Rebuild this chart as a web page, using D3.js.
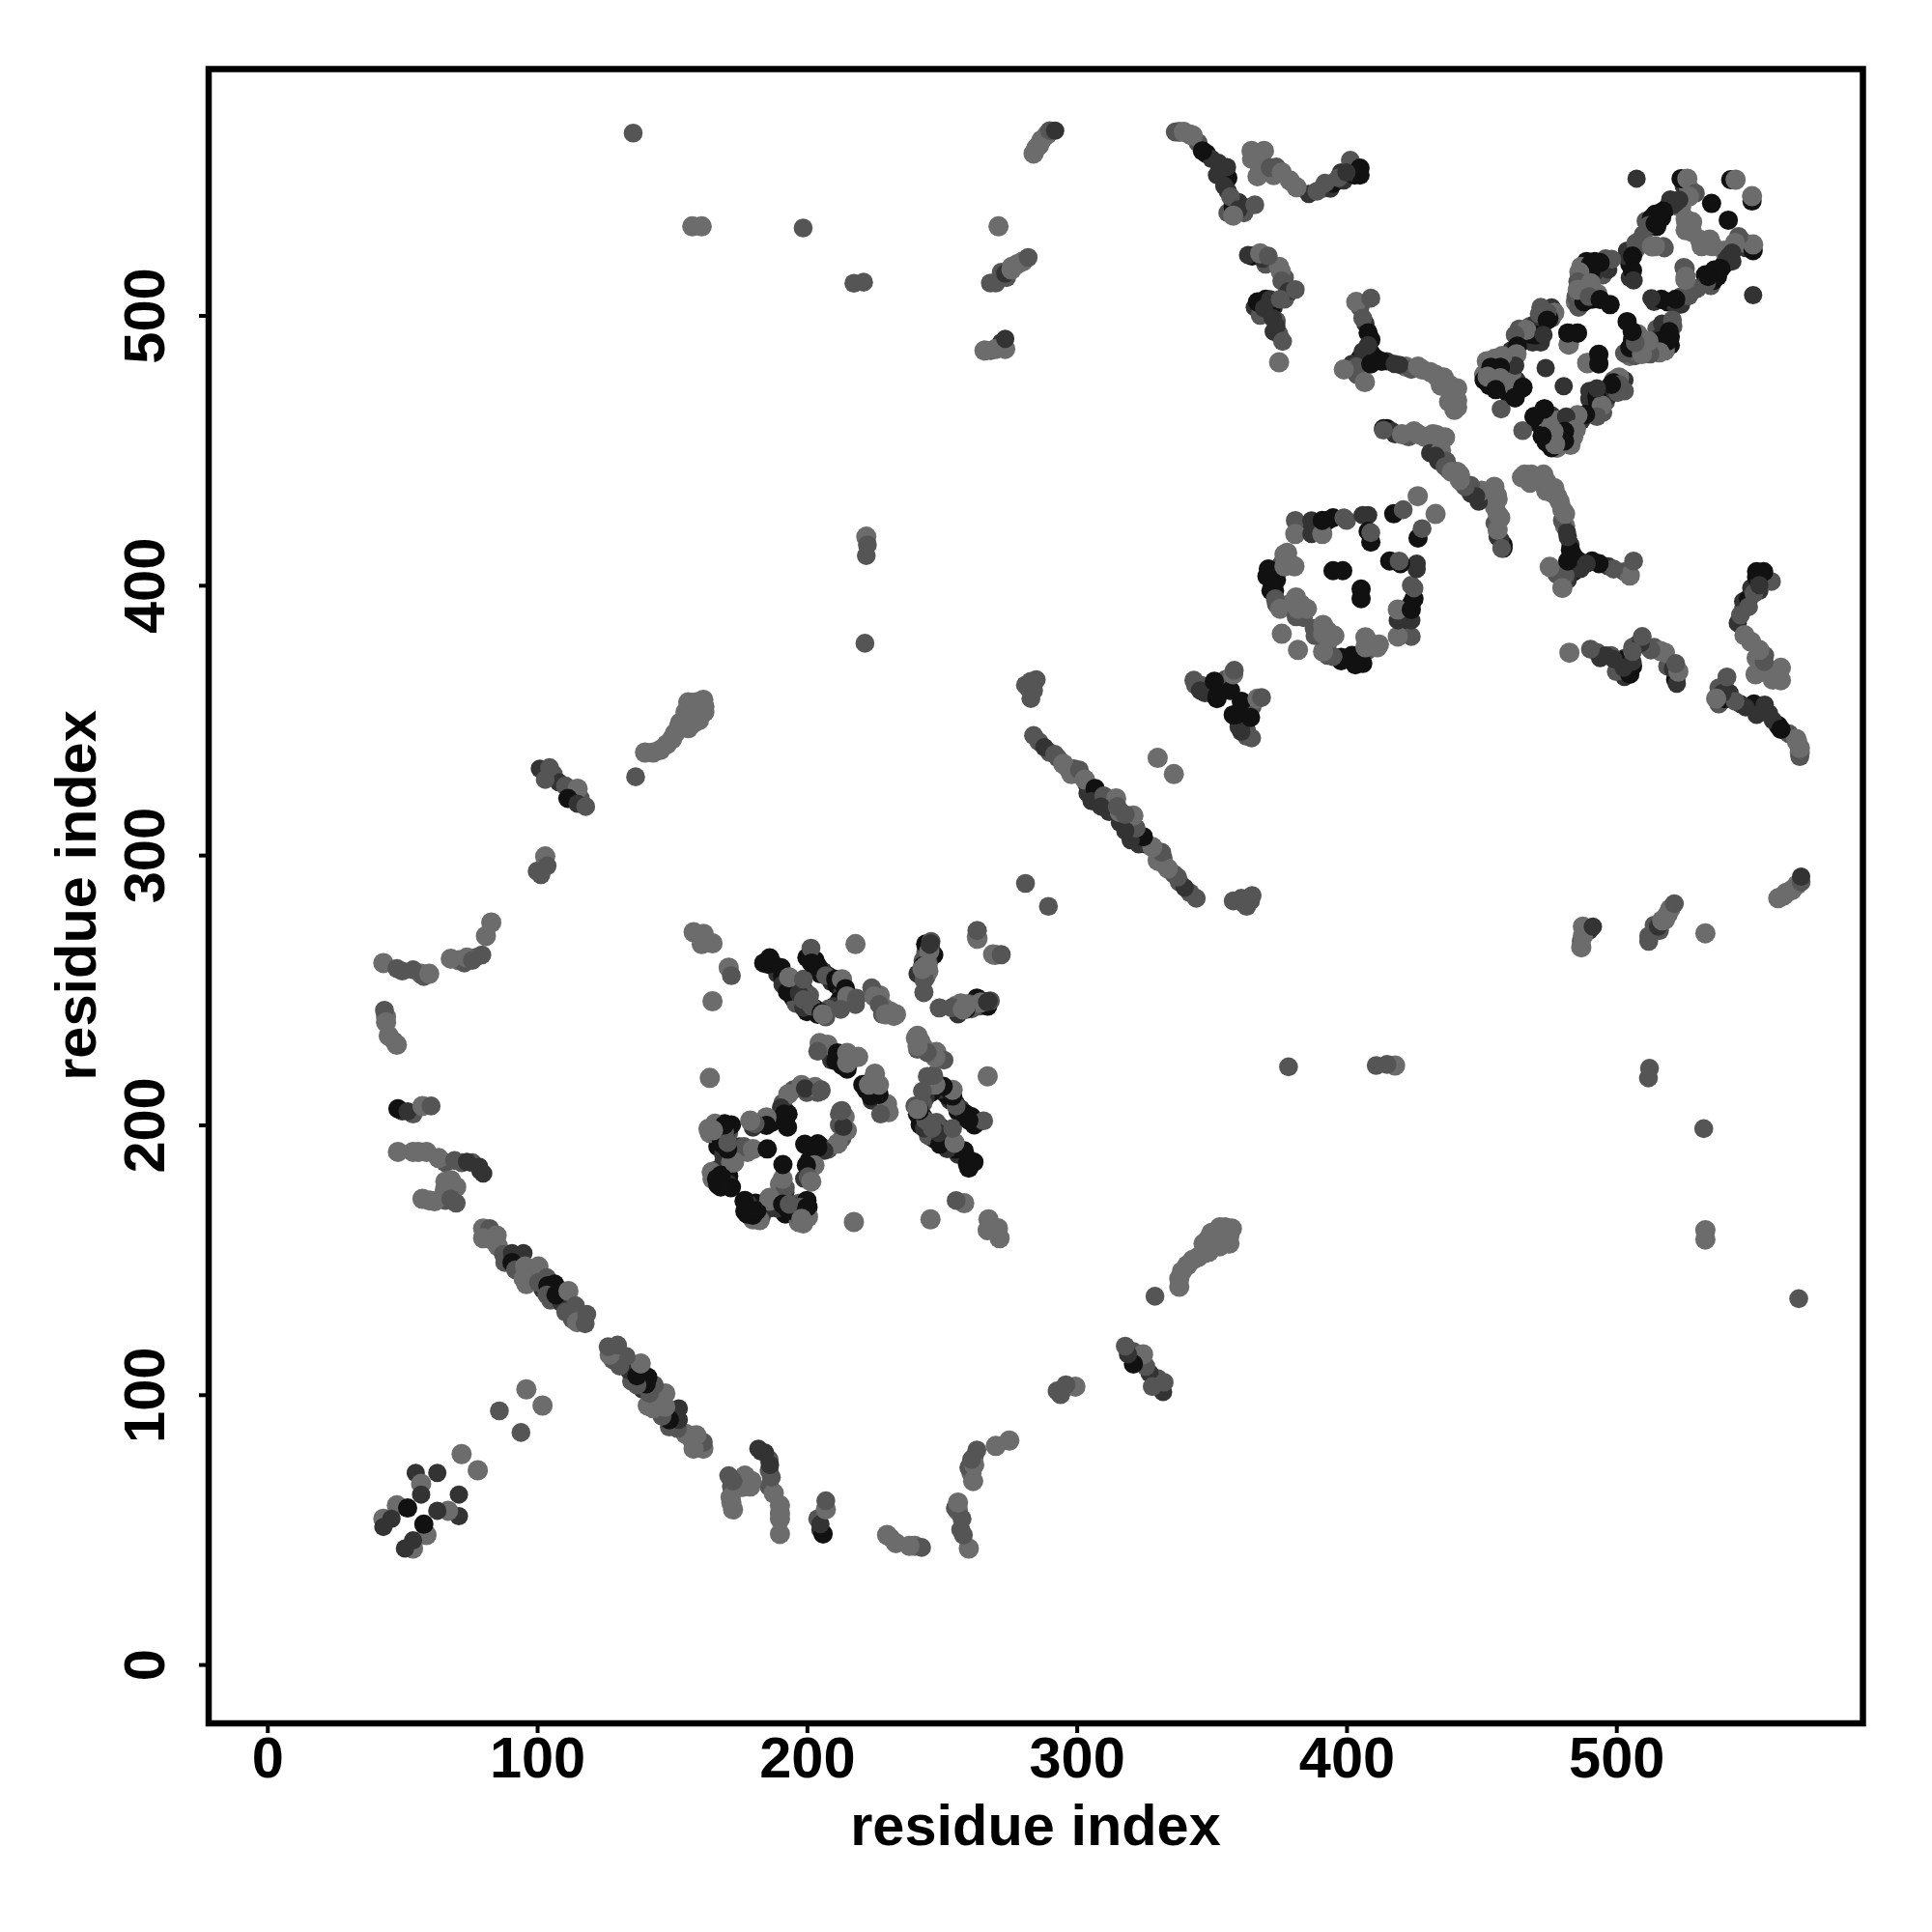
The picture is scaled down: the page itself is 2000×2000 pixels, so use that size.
<!DOCTYPE html>
<html><head><meta charset="utf-8">
<script src="https://cdn.jsdelivr.net/npm/d3@7"></script>
<style>html,body{margin:0;padding:0;background:#fff}svg{display:block}
text{font-family:"Liberation Sans",Arial,sans-serif;font-weight:700;fill:#000}</style>
</head><body><div id="c"></div>
<script>
// Each contact: [residue i, residue j, shade index]; the map is symmetric, each contact is plotted at (i,j) and (j,i).
const shades = ["#6c6c6c","#555555","#333333","#111111"];
const radii = [10.5,9.8,9.5,10];
const xTicks = [0,100,200,300,400,500];
const yTicks = [0,100,200,300,400,500];
const axisTitle = "residue index";

const helixN = [[72,78,0],[55,71,2],[63,71,2],[57,67,0],[57,63,2],[48,59,0],[52,58,3],[43,54,0],[46,54,2],[43,51,2],[86,94,1],[96,102,0]];
const bandA = [[80,161.6,0],[82.4,161.6,1],[80,158,0],[85,159,0],[85.5,155,0],[87.5,152,1],[88,149,1],[90.7,152.5,2],[94.9,152.5,2],[90.7,149,3],[92,146.3,1],[95.5,147.5,0],[95,143,0],[96,141,0],[100.5,147.5,0],[100.5,141.6,1],[103.6,143.4,1],[106.5,141,3],[104,140.4,3],[103.6,137,1],[107,137,3],[111.6,138.4,0],[110.6,130.6,1],[114.2,133,1],[114.8,126.9,0],[117.8,126.3,1],[118.4,129.8,1]];
const leftRows = [[43,260,0],[48,258,1],[54,257.5,1],[60,256,0],[68,261.6,0],[74,262,0],[79.5,263,1],[76,261,1],[81,270,0],[83,275,0],[43.4,242.5,1],[44,238,0],[45,233,0],[48,229.7,0],[48.4,206,3],[52,205,2],[57.5,207,0],[60.7,207,1],[48.4,190,0],[54,190,0],[59,190,0],[63.5,187.7,0],[69.4,186.8,1],[74,186.3,2],[78.5,184.5,2],[80,182,2],[68,179.5,0],[65.8,176,0],[57.5,172.6,0],[62,171.7,0],[68,172.6,1]];
const armB = [[136.5,329,1],[140,338,0],[145.7,339,0],[150,343,0],[152.5,347.5,0],[154.8,350,0],[157,352,0],[159,353,0],[162,353,0],[156,356.6,0],[159,356.6,0],[161.6,357.5,0]];
const armC = [[101,332,2],[104.6,332.4,1],[103,328,1],[110.5,325.6,1],[115,324.6,0],[111.4,321,3],[115,319,2],[118,318,1],[101.4,292.7,1],[103,299.5,0],[103.7,296,1]];
const farA = [[135.6,567.6,1],[157.5,533,0],[161,533,0],[198.6,532.4,1],[217.4,511.9,1],[221,512.3,1],[222,418,0],[222.4,415,1],[222,411,1],[221.5,378.5,1]];
const farB = [[271,533,0],[268,512,1],[271.7,514,1],[273.5,515.5,2],[275.8,517,0],[278,519,0],[282,521.5,1],[265.8,487,0],[270,487.6,0],[273.5,487.6,0],[273.5,491.3,2],[285,562,0],[287,565,0],[290,568.5,1],[292,568.5,2],[283,364.4,1],[284,361,1],[281,289.5,1],[330,336,0]];
const bandD = [[284,344.3,1],[288,340,2],[291.8,337.4,1],[295,333.8,0],[301,331.5,1],[303,328,0],[306.8,324.7,3],[305.5,320,2],[310,322,1],[314.6,321,0],[309,318,2],[315,318,1]];
const arcM = [[336.5,568,1],[339.7,568,0],[343,566.7,0],[346.6,561,3],[352.5,556.6,2],[355.7,555,2],[354.7,548,2],[357,544,1],[360,539.3,2],[366,541,1],[358,537,0],[364.8,561,0],[369.4,561,0],[367,551.6,0],[371.7,554.8,1],[376,553,0],[381.5,547.5,0],[389,546,1],[392,549,1],[397,551,1],[401.4,557.5,1],[405,554.6,3],[400,553,2]];
const arcN = [[363.5,522.4,2],[368,523,0],[371,522,1],[375.6,516.4,0],[376,512.8,1],[378.5,509,2],[381,509.6,1],[367,505,3],[371.7,506,2],[375.4,506,1],[369.4,502.7,2],[372.6,499,2],[374,496,2],[376.3,490.4,1],[375,482.6,0]];
const arcO = [[403.6,505,0],[409,506.4,1],[406,499,1],[408,493.6,3],[408,489,2],[406,486.7,2],[403.6,481,1],[399,480,0],[406.8,475.3,0],[409,482,3],[413,483,3],[417.8,482,2],[419.6,481.7,2],[426.5,481,0],[431,479,0],[434,476.7,0],[437.9,474.4,0],[440,471.7,0],[441,468.5,0],[440,465,0]];
const arcP = [[413.7,458,3],[417,457,2],[420.5,456,1],[426.5,456,0],[433.3,455.7,0],[436.5,454.8,0],[433,448,2],[436.5,444,1],[439,442,0],[432,456,0],[425,457,0],[420.5,456,0],[413.7,457.5,1]];
const ringQ = [[381,424,1],[381,419,0],[387,424,2],[387,419,2],[391,419,0],[391,424,3],[395,425,3],[399,425,1],[406,426,2],[408,426,2],[408,420,3],[409,416,3],[409,419.5,1],[417.5,426.5,3],[421,428,1],[426.4,433,0],[371,406,3],[370.5,403.3,3],[374,404.5,3],[373.3,398,3],[373.6,395,1],[377,411.4,0],[377,407,0],[380.7,407,0],[375.4,391.3,0],[381.3,388.3,1],[381.3,395.5,0],[382,391.3,0],[385.3,391.3,0],[376,382,0],[395,405.4,3],[398.6,405.4,3]];
const blockR = [[343.4,364.8,1],[345.7,361,2],[347.5,360,2],[351,364.4,3],[352,358,3],[352,359,3],[358,367,0],[358.4,368.5,1]];
const clusterS = [[186.2,261.9,3],[185.6,259.5,3],[190.4,258.3,3],[192.8,249.3,3],[197,248.8,2],[193.4,254.7,0],[198.7,254,1],[198.7,243.4,2],[198.7,246.4,1],[201.7,244,1],[205.3,241.6,3],[205.9,241,0],[201.5,265.5,1],[201.7,260,3],[204,258.9,3],[207,255.3,1],[210.7,254,3],[213,254,0],[214.3,250.5,3],[214.9,247.6,0],[218.4,247,1],[218,244.6,1],[212.5,242.8,1],[224,250.8,1],[225,247.6,0],[226.8,244.6,1],[229.2,241,0],[232.2,240.4,0],[158,271.4,0],[161.7,270.8,0],[161.4,267.5,0],[165,267.3,0],[171,258.3,0],[172,255.3,1],[165,245.8,0],[218,267,0],[245.9,267.3,2],[245.3,264.3,0],[242.9,258.9,3],[244,258.9,0],[243.5,254,1],[243.3,249,1],[249.2,243.4,1],[253.6,243.4,1],[257.8,242.8,0],[259,244.6,0],[266.8,245.5,2],[263.2,272,1],[263.2,269,0],[269.8,263,0],[272,263,1]];
const clusterT = [[204.7,230.3,0],[207.7,229.7,0],[204,227.3,1],[211.3,226.7,3],[210.7,223.7,3],[214.9,220.7,3],[214.9,223,0],[214.9,226.7,0],[219,225.2,0],[164,217.4,0],[198,214.8,0],[193.1,211.4,0],[199.3,213.5,2],[205.3,213,1],[212.5,205.2,1],[190.4,206.4,2],[191.6,204,3],[192.8,199.2,3],[185,202.8,0],[185,199.8,3],[180.8,200.4,1],[179,201.6,0],[169.5,200.4,3],[165.9,200.4,0],[163.5,198.6,0],[169.5,197.4,1],[168.3,193.2,3],[172.5,190.3,2],[176.7,192,1],[180,191,0],[185.3,191.1,3],[171.9,186,0],[164.7,182.5,0],[166.5,180,3],[170.7,178.3,2],[167.1,177.7,3],[168.2,181.4,3],[171.8,176.7,3],[173,186.2,0],[170.6,191,3],[170.6,193.4,1],[169.4,200,3],[165.2,198,0]];
const blockU = [[507.5,550.7,2],[524,550.7,3],[526.3,550.7,0],[529.3,545.3,1],[526.9,544,0],[535.3,541.5,3],[542.4,550.3,3],[544.2,550.3,0],[523.3,542.9,2],[521.5,541,2],[517.4,538.7,3],[514.4,537.5,3],[516.8,536.3,3],[512,533.4,1],[514.4,534,3],[525.7,535.7,0],[528.1,534.6,0],[525.7,531.6,0],[507.2,526.8,1],[513.2,525.6,0],[517.4,525.6,1],[503.6,522,2],[506,522,3],[506,516.7,3],[506.4,513,2],[498.3,520.8,1],[494,519.6,3],[490.5,519,3],[490.5,516,3],[486.3,516,0],[485.7,512.5,1],[490.5,511.9,0],[485.7,509.5,0],[489.9,507,1],[494,505.9,3],[497.7,504,3],[525,517.8,1],[525.7,514.3,0]];
const blockV = [[474.4,501.1,1],[471.4,500.5,1],[474.4,498.2,3],[470,492.8,3],[466.6,494.6,0],[473,492.8,2],[462.5,492.8,1],[463.3,488.6,3],[463,485.6,0],[462.5,481.4,2],[457.7,485,0],[457,480.8,3],[453.5,480.8,3],[452.3,477.3,0],[457,476.7,0],[455.3,472.5,3],[462.5,469.5,3],[462.5,473,0],[465.4,473.4,3],[457.3,465.3,1],[473.8,480.5,2],[482.4,493.4,3],[485.5,493.4,3],[482.4,489.2,0],[482.3,489.3,0],[485.6,493.5,3],[482,493.5,3],[462.4,469.6,3],[465.3,473.2,3]];

// Further overlapping contacts read from the densest parts; drawn underneath.
const denseBands = [[84,157,0],[89,150,1],[93,150,2],[98,145,1],[98,143,1],[102,139,2],[105,135,1],[109,134,2],[112,131,1],[116,128,0],[113,128,1],[108,139,3],[109,136,2],[286,342,1],[290,338,1],[293,336,1],[297,332,0],[299,332,1],[302,329,2],[304,326,3],[304,323,2],[307,322,2],[308,320,3],[312,320,1],[313,318,1],[312,316,2],[316,316,0],[298,330,0]];
const denseArms = [[143,338,0],[148,341,0],[151,345,0],[153,349,0],[155,353,0],[157,355,0],[160,350,0],[162,355,0],[156,347,0],[158,349,0],[106,330,1],[108,327,2],[112,324,2],[113,322,1],[116,321,1],[102,295,1],[100,294,1],[50,257,1],[57,256,0],[58,255,1],[71,261,0],[77,262,1],[73,260,1],[44,240,0],[47,231,1],[50,205,2],[54,204,1],[56,190,0],[66,186,1],[72,186,1],[76,186,1],[79,183,2],[66,179,0],[70,177,0],[60,172,0],[70,171,1],[66,172,1],[270,512,1],[274,514,1],[272,516,1],[276,518,0],[280,520,0],[286,563,0],[284,560,0],[289,567,0],[281,363,1],[285,365,1],[283,358,1],[268,487,1],[272,488,1],[272,490,2],[282,362,1]];
const denseArcs = [[338,568,0],[342,567,0],[345,564,1],[348,560,3],[350,558,2],[353,554,2],[356,551,3],[352,552,2],[356,546,2],[358,541,3],[360,542,2],[363,540,2],[356,538,1],[362,538,1],[358,540,3],[365,558,0],[368,555,0],[373,552,0],[374,555,1],[379,550,0],[386,545,2],[391,547,1],[394,547,2],[395,549,3],[398,553,2],[402,555,3],[399,550,2],[403,552,3],[402,553,2],[405,552,3],[365,522,3],[370,519,1],[369,521,2],[375,518,0],[377,514,1],[366,503,2],[370,506,3],[373,503,2],[368,500,1],[372,502,3],[374,498,1],[375,493,1],[373,494,2],[378,508,3],[377,506,1],[405,503,1],[407,497,2],[409,491,3],[405,484,3],[402,482,2],[406,483,2],[409,486,3],[404,478,1],[411,484,3],[415,483,2],[422,481,0],[424,480,1],[428,480,0],[433,478,0],[435,474,0],[436,477,0],[439,470,0],[438,468,0],[441,473,0],[441,466,0],[415,458,3],[418,456,2],[423,455,1],[429,455,0],[431,455,0],[435,455,1],[434,446,2],[431,449,2],[435,450,0],[438,443,0],[441,442,0],[437,446,1]];
const denseBlocks = [[453,483,0],[455,484,0],[454,475,3],[456,478,3],[452,479,3],[459,482,3],[461,487,2],[460,478,3],[459,474,0],[460,471,3],[468,496,1],[472,495,2],[476,499,1],[476,503,2],[472,503,1],[466,491,3],[469,490,2],[464,495,1],[451,478,0],[451,476,3],[453,474,3],[455,476,3],[454,480,3],[458,477,1],[463,476,2],[461,478,0],[457,475,2],[452,483,0],[477,501,0],[475,499,3],[470,497,2],[468,493,3],[472,490,2],[488,518,3],[489,515,3],[487,513,1],[488,510,0],[492,520,3],[496,521,1],[504,524,2],[505,519,3],[507,524,1],[505,514,2],[510,530,1],[511,535,1],[513,536,3],[519,540,3],[520,543,2],[525,548,2],[527,547,0],[509,528,1],[515,533,3],[524,540,0],[526,534,0],[528,531,0],[495,515,1],[497,517,2],[489,520,3],[492,516,2],[487,518,0],[490,513,1],[485,505,0],[485,507,1],[487,507,0],[488,510,3],[486,509,3],[490,509,2],[491,506,3],[493,508,0],[486,503,1],[488,505,3]];
const denseRing = [[372,402,3],[372,405,3],[374,402,3],[375,406,2],[376,408,1],[378,409,0],[379,408,0],[372,398,3],[374,393,1],[379,393,0],[383,393,0],[383,389,1],[384,388,1],[378,412,0],[400,424,1],[393,424,3],[389,423,2],[385,421,2],[350,360,3],[349,362,2],[355,365,1],[346,363,1],[344,363,1],[357,361,3]];
const denseCentre = [[187,260,3],[188,259,3],[184,260,3],[189,256,2],[191,255,3],[194,251,3],[191,252,2],[196,246,2],[200,242,3],[203,243,3],[204,241,3],[207,240,1],[200,262,3],[203,261,3],[205,256,3],[209,253,2],[212,251,3],[203,258,3],[206,257,2],[208,255,3],[211,252,3],[213,249,2],[216,246,1],[212,246,3],[210,244,2],[208,243,1],[199,250,2],[195,247,3],[196,245,1],[201,248,1],[227,248,0],[229,243,0],[231,242,0],[233,241,0],[228,241,1],[161,267,0],[247,263,3],[246,265,2],[245,260,1],[243,257,3],[242,256,3],[245,257,0],[255,244,0],[256,241,2],[261,243,1],[264,244,1],[267,244,3],[268,246,1],[205,229,0],[206,228,1],[209,227,3],[212,225,3],[213,222,3],[216,224,0],[209,224,2],[167,199,3],[168,196,2],[167,192,3],[170,192,1],[171,187,0],[165,180,0],[166,183,3],[167,178,3],[169,179,3],[168,177,3],[172,177,3],[170,183,3],[171,181,3],[175,191,1],[178,190,0],[171,197,1],[172,200,3],[164,197,0],[166,197,1],[169,186,2],[169,189,2],[170,195,2],[175,192,2],[192,205,3],[191,208,1],[190,203,2],[192,201,3],[193,204,3],[187,201,3],[183,201,1],[180,199,2],[195,213,1],[200,212,1],[204,212,1],[203,214,0],[173,186,1],[170,200,3],[167,200,3],[166,198,1]];

const contacts = [denseBlocks,denseArcs,denseRing,denseCentre,denseBands,denseArms,helixN,bandA,leftRows,armB,armC,farA,farB,bandD,arcM,arcN,arcO,arcP,ringQ,blockR,clusterS,clusterT,blockU,blockV].flat();

const W=2000,H=2000;
const x=d3.scaleLinear().domain([-21.75,591.4]).range([216,1928.5]);
const y=d3.scaleLinear().domain([-21.8,591.3]).range([1784,71.5]);
const svg=d3.select("#c").append("svg").attr("width",W).attr("height",H);

const pts=contacts.flatMap(d=>[{a:d[0],b:d[1],s:d[2]},{a:d[1],b:d[0],s:d[2]}]);
svg.append("g").selectAll("circle").data(pts).join("circle")
  .attr("cx",d=>x(d.a)).attr("cy",d=>y(d.b)).attr("r",d=>radii[d.s]).attr("fill",d=>shades[d.s]);

svg.append("rect").attr("x",x.range()[0]).attr("y",y.range()[1])
  .attr("width",x.range()[1]-x.range()[0]).attr("height",y.range()[0]-y.range()[1])
  .attr("fill","none").attr("stroke","#000").attr("stroke-width",6.5);

const gx=svg.append("g").attr("transform",`translate(0,${y.range()[0]})`)
  .call(d3.axisBottom(x).tickValues(xTicks).tickSize(10).tickPadding(8).tickSizeOuter(0));
const gy=svg.append("g").attr("transform",`translate(${x.range()[0]},0)`)
  .call(d3.axisLeft(y).tickValues(yTicks).tickSize(10).tickSizeOuter(0));
[gx,gy].forEach(g=>{g.select(".domain").remove();
  g.selectAll("line").attr("stroke","#000").attr("stroke-width",4);
  g.selectAll("text").style("font-size","59.5px").style("font-family",'"Liberation Sans",Arial,sans-serif').style("font-weight",700).attr("fill","#000");});
gx.selectAll("text").attr("y",null).attr("dy",null).attr("transform","translate(0,56)").attr("text-anchor","middle");
gy.selectAll("text").attr("x",null).attr("dy",null).attr("text-anchor","middle")
  .attr("transform","translate(-46,0) rotate(-90)").attr("y",0);

svg.append("text").attr("x",1072).attr("y",1910).attr("text-anchor","middle").style("font-size","59.5px").text(axisTitle);
svg.append("text").attr("transform","translate(99,927) rotate(-90)").attr("text-anchor","middle").style("font-size","59.5px").text(axisTitle);
</script></body></html>
